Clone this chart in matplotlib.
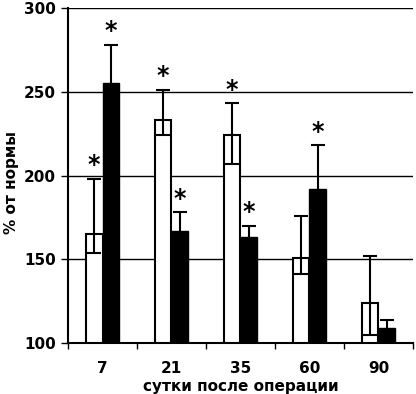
import numpy as np
from matplotlib import pyplot as plt
from matplotlib import rcParams

rcParams['font.family'] = ['DejaVu Sans']
rcParams['font.weight'] = 'bold'

# data
days = ['7', '21', '35', '60', '90']
white_vals = [165, 233, 224, 151, 124]
white_err_lo = [11, 9, 17, 10, 19]
white_err_hi = [33, 18, 19, 25, 28]
black_vals = [255, 167, 163, 192, 109]
black_err = [23, 11, 7, 26, 5]
white_star = [True, True, True, False, False]
black_star = [True, True, True, True, False]

x = np.arange(len(days))
w = 0.24

fig = plt.figure(figsize=(4.16, 3.94), dpi=100)
ax = fig.add_axes([0.1635, 0.1294, 0.829, 0.8503])

for yv in [150, 200, 250, 300]:
    ax.axhline(yv, color='black', lw=1.0, zorder=0)

ax.bar(x - w / 2, white_vals, w, color='white', edgecolor='black', lw=1.5, zorder=2)
ax.bar(x + w / 2, black_vals, w, color='black', edgecolor='black', lw=1.0, zorder=2)

ax.errorbar(x - w / 2, white_vals, yerr=[white_err_lo, white_err_hi], fmt='none',
            ecolor='black', elinewidth=1.5, capsize=5, capthick=1.5, zorder=3)
ax.errorbar(x + w / 2, black_vals, yerr=[black_err, black_err], fmt='none',
            ecolor='black', elinewidth=1.5, capsize=5, capthick=1.5, zorder=3)

for i in range(len(days)):
    if white_star[i]:
        ax.text(x[i] - w / 2, white_vals[i] + white_err_hi[i] + 1, '*', ha='center', va='bottom',
                fontsize=17, fontweight='bold')
    if black_star[i]:
        ax.text(x[i] + w / 2, black_vals[i] + black_err[i] + 1, '*', ha='center', va='bottom',
                fontsize=17, fontweight='bold')

ax.set_xlim(-0.5, 4.5)
ax.set_ylim(100, 300)
ax.set_yticks([100, 150, 200, 250, 300])
ax.set_xticks(x)
ax.set_xticklabels(days)
ax.set_xticks(np.arange(-0.5, 5, 1), minor=True)
ax.tick_params(axis='x', which='major', length=0, labelsize=11, pad=13)
ax.tick_params(axis='x', which='minor', length=4, width=1)
ax.tick_params(axis='y', length=5, width=1, labelsize=11)

ax.spines['top'].set_visible(False)
ax.spines['right'].set_visible(False)
ax.spines['left'].set_linewidth(1.5)
ax.spines['bottom'].set_linewidth(1.5)

fig.text(12 / 416, 0.538, '% от нормы', rotation=90, ha='center', va='center',
         fontsize=11, fontweight='bold')
ax.set_xlabel('сутки после операции', fontsize=11, fontweight='bold', labelpad=2)

plt.savefig('out.png', dpi=100)
